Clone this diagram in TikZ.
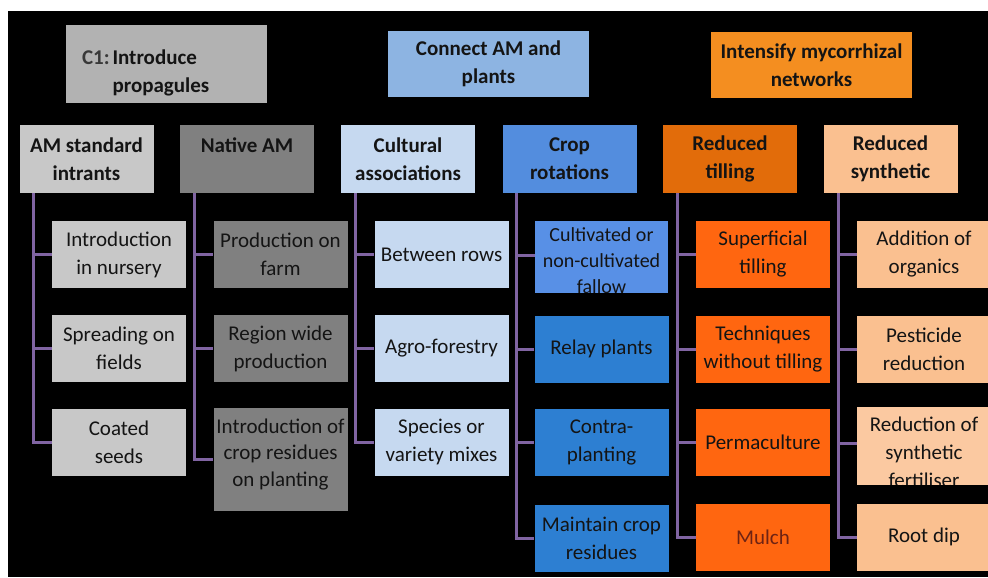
\documentclass[tikz,border=0pt]{standalone}
\usepackage{fontspec}
\setmainfont{Carlito}

\definecolor{introgray}{RGB}{178,178,178}
\definecolor{connectblue}{RGB}{141,180,226}
\definecolor{intenseorange}{RGB}{244,142,32}
\definecolor{standardgray}{RGB}{200,200,200}
\definecolor{nativegray}{RGB}{128,128,128}
\definecolor{culturalblue}{RGB}{198,217,240}
\definecolor{rotationblue}{RGB}{83,141,222}
\definecolor{fallowblue}{RGB}{88,144,230}
\definecolor{cropblue}{RGB}{45,127,210}
\definecolor{tillorange}{RGB}{226,108,10}
\definecolor{notillorange}{RGB}{255,102,16}
\definecolor{synthpeach}{RGB}{250,192,144}
\definecolor{linkpurple}{RGB}{128,100,162}
\definecolor{mulchred}{RGB}{110,35,20}

\tikzset{
  box/.style={rectangle, inner sep=1pt, align=center, text=black!92,
    minimum width=67pt, minimum height=33.5pt,
    font=\fontsize{10.5}{14}\selectfont},
  head/.style={box, minimum height=34pt, font=\fontsize{10.5}{14}\selectfont\bfseries},
  topbox/.style={head, minimum width=100.5pt, minimum height=33pt},
  link/.style={draw=linkpurple, line width=1.5pt},
}

\begin{document}
\begin{tikzpicture}[x=0.5pt,y=-0.5pt]
    \useasboundingbox (0,0) rectangle (988,577);
    \fill[black] (8,11) rectangle (988,577);
    \begin{scope}
    \clip (8,11) rectangle (988,577);

    % top row
    \node[topbox, fill=introgray, text width=84pt, inner xsep=8pt, align=left] (introduce) at (166,64)
        {\begin{tabular}{@{}l@{\hspace{1.5pt}}l@{}}\rule{0pt}{19pt}\textcolor{black!78}{C1:} & Introduce\\ & propagules\end{tabular}};
    \node[topbox, fill=connectblue] (connect) at (488.5,64) {Connect AM and\\plants};
    \node[topbox, fill=intenseorange] (intensify) at (811.5,65) {Intensify mycorrhizal\\networks};

    % headers
    \node[head, fill=standardgray] (standard) at (86.5,159) {AM standard\\intrants};
    \node[head, fill=nativegray] (native) at (247,159) {Native AM\\\mbox{}};
    \node[head, fill=culturalblue] (cultural) at (408,159) {Cultural\\associations};
    \node[head, fill=rotationblue] (rotation) at (569.5,159) {Crop\\rotations};
    \node[head, fill=tillorange] (tilling) at (730,159) {Reduced\\tilling};
    \node[head, fill=synthpeach] (synthetic) at (890.5,159) {Reduced\\synthetic};

    % AM standard intrants
    \node[box, fill=standardgray] (nursery) at (119,254.5) {Introduction\\in nursery};
    \node[box, fill=standardgray] (spreading) at (119,348.5) {Spreading on\\fields};
    \node[box, fill=standardgray] (coated) at (119,442) {Coated\\seeds};

    % native AM
    \node[box, fill=nativegray] (farm) at (280.5,254.5) {Production on\\farm};
    \node[box, fill=nativegray] (region) at (280.5,348.5) {Region wide\\production};
    \node[box, fill=nativegray, minimum height=51.5pt, font=\fontsize{10.5}{13.3}\selectfont] (planting) at (280.5,459.5)
        {Introduction of\\crop residues\\on planting\rule[-7pt]{0pt}{0pt}};

    % cultural associations
    \node[box, fill=culturalblue] (rows) at (441.5,254.5) {Between rows};
    \node[box, fill=culturalblue] (agro) at (441.5,348.5) {Agro-forestry};
    \node[box, fill=culturalblue] (mixes) at (441.5,442) {Species or\\variety mixes};

    % crop rotations
    \begin{scope}
        \clip (535,219) rectangle (668,292);
        \node[box, fill=fallowblue, minimum width=66.5pt, minimum height=40pt,
            font=\fontsize{10}{13}\selectfont] (fallow) at (601.5,261) {Cultivated or\\non-cultivated\\fallow};
    \end{scope}
    \node[box, fill=cropblue] (relay) at (601.5,349) {Relay plants};
    \node[box, fill=cropblue] (contra) at (601.5,442) {Contra-\\planting};
    \node[box, fill=cropblue] (maintain) at (601.5,538) {Maintain crop\\residues};

    % reduced tilling
    \node[box, fill=notillorange] (superficial) at (763,254.5) {Superficial\\tilling};
    \node[box, fill=notillorange] (techniques) at (763,349) {Techniques\\without tilling};
    \node[box, fill=notillorange] (permaculture) at (763,442.5) {Permaculture};
    \node[box, fill=notillorange, text=mulchred] (mulch) at (763,537) {Mulch};

    % reduced synthetic
    \node[box, fill=synthpeach] (organics) at (924,254.5) {Addition of\\organics};
    \node[box, fill=synthpeach] (pesticide) at (924,349.5) {Pesticide\\reduction};
    \begin{scope}
        \clip (857,407) rectangle (991,484);
        \node[box, fill=synthpeach!85!white, minimum height=46pt] (fertiliser) at (924,452) {Reduction of\\synthetic\\fertiliser};
    \end{scope}
    \node[box, fill=synthpeach] (rootdip) at (924,537) {Root dip};

    % links
    \draw[link] ([xshift=7.25pt]standard.south west) |- (nursery.west)
        ([xshift=7.25pt]standard.south west) |- (spreading.west)
        ([xshift=7.25pt]standard.south west) |- (coated.west);
    \draw[link] ([xshift=7.5pt]native.south west) |- (farm.west)
        ([xshift=7.5pt]native.south west) |- (region.west)
        ([xshift=7.5pt]native.south west) |- (planting.west);
    \draw[link] ([xshift=7.25pt]cultural.south west) |- (rows.west)
        ([xshift=7.25pt]cultural.south west) |- (agro.west)
        ([xshift=7.25pt]cultural.south west) |- (mixes.west);
    \draw[link] ([xshift=7.25pt]rotation.south west) |- ([yshift=3pt]fallow.west)
        ([xshift=7.25pt]rotation.south west) |- (relay.west)
        ([xshift=7.25pt]rotation.south west) |- (contra.west)
        ([xshift=7.25pt]rotation.south west) |- (maintain.west);
    \draw[link] ([xshift=7.5pt]tilling.south west) |- (superficial.west)
        ([xshift=7.5pt]tilling.south west) |- (techniques.west)
        ([xshift=7.5pt]tilling.south west) |- (permaculture.west)
        ([xshift=7.5pt]tilling.south west) |- (mulch.west);
    \draw[link] ([xshift=7.5pt]synthetic.south west) |- (organics.west)
        ([xshift=7.5pt]synthetic.south west) |- (pesticide.west)
        ([xshift=7.5pt]synthetic.south west) |- ([yshift=4.5pt]fertiliser.west)
        ([xshift=7.5pt]synthetic.south west) |- (rootdip.west);
    \end{scope}
\end{tikzpicture}
\end{document}
